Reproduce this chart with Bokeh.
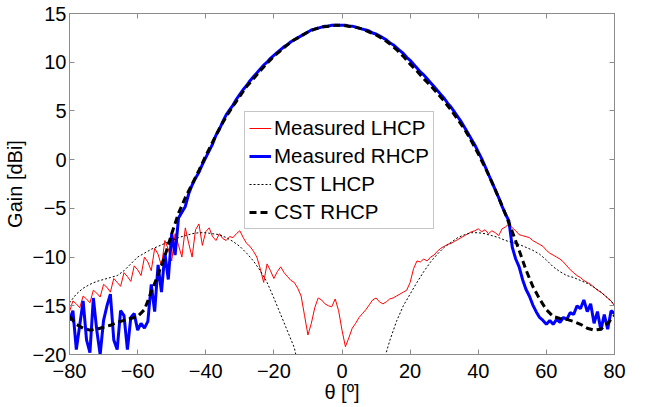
from bokeh.plotting import figure
from bokeh.models import Range1d, LinearAxis, FixedTicker, Legend, LegendItem
from bokeh.embed import file_html
from bokeh.resources import INLINE

# ---------------- data ----------------
theta_meas = list(range(-80, 81))
theta_cst = list(range(-80, 81, 2))

meas_lhcp = [
    -15.6, -14.5, -14.8, -15.2, -14.0, -14.3, -14.7, -13.4, -13.7, -14.1,
    -12.8, -13.1, -13.6, -12.2, -12.6, -13.0, -11.6, -12.0, -12.5, -10.9,
    -11.3, -11.9, -10.0, -10.5, -11.4, -9.1, -9.7, -10.9, -8.3, -9.2,
    -10.4, -7.6, -8.8, -10.0, -7.0, -8.6, -10.0, -7.2, -6.6, -8.8,
    -7.4, -7.0, -7.9, -8.3, -7.6, -8.1, -8.3, -7.9, -8.0, -7.6,
    -7.3, -8.0, -8.6, -8.9, -9.4, -10.0, -11.2, -12.6, -10.7, -11.4,
    -12.2, -11.5, -11.0, -11.6, -12.0, -12.4, -12.6, -13.2, -14.0, -16.0,
    -18.0, -16.8, -15.2, -14.2, -14.4, -14.8, -15.0, -15.1, -14.3, -15.5,
    -17.5, -19.2, -18.3, -17.3, -16.8, -16.2, -15.8, -15.4, -14.9, -14.4,
    -14.2, -14.6, -14.8, -14.6, -14.3, -14.2, -14.0, -13.8, -13.6, -13.4,
    -12.6, -11.2, -10.4, -10.5, -10.2, -10.4, -10.0, -9.8, -9.4, -9.1,
    -8.9, -8.7, -8.6, -8.4, -8.2, -8.0, -7.8, -7.6, -7.4, -7.3,
    -7.1, -7.4, -7.2, -7.6, -7.3, -7.5, -7.8, -7.1, -6.9, -6.6,
    -7.0, -7.3, -7.7, -7.8, -7.9, -8.0, -8.3, -8.5, -8.7, -8.9,
    -9.3, -9.6, -9.8, -10.0, -10.2, -10.5, -10.9, -11.3, -11.6, -11.9,
    -12.1, -12.4, -12.6, -12.8, -13.1, -13.4, -13.6, -13.9, -14.2, -14.5, -15.0,
]

meas_rhcp = [
    -16.5, -15.5, -19.5, -17.0, -14.5, -18.5, -19.8, -14.2, -17.5, -20.0,
    -16.5, -15.0, -13.8, -18.5, -19.5, -15.5, -16.0, -19.5, -16.2, -15.8,
    -17.5, -16.8, -17.3, -16.6, -12.8, -15.6, -10.8, -13.6, -9.6, -12.3,
    -7.6, -9.8, -6.0, -5.4, -4.8, -3.5, -2.6, -1.9, -1.3, -0.5,
    0.2, 0.9, 1.6, 2.5, 3.1, 3.9, 4.6, 5.1, 5.6, 6.2,
    6.7, 7.2, 7.6, 8.1, 8.5, 8.9, 9.3, 9.7, 10.0, 10.4,
    10.7, 11.0, 11.3, 11.6, 11.8, 12.1, 12.3, 12.5, 12.7, 12.9,
    13.1, 13.3, 13.4, 13.5, 13.6, 13.7, 13.7, 13.8, 13.8, 13.8,
    13.8, 13.8, 13.7, 13.7, 13.6, 13.5, 13.4, 13.3, 13.2, 13.0,
    12.9, 12.7, 12.5, 12.3, 12.0, 11.8, 11.5, 11.2, 10.9, 10.5,
    10.2, 9.8, 9.4, 9.0, 8.7, 8.3, 7.9, 7.5, 7.1, 6.7,
    6.3, 5.8, 5.4, 4.9, 4.4, 3.9, 3.3, 2.7, 2.1, 1.5,
    0.8, 0.1, -0.7, -1.5, -2.3, -3.1, -3.9, -4.8, -5.6, -6.3,
    -9.0, -10.2, -11.0, -12.3, -13.3, -14.0, -14.9, -15.6, -16.2, -16.5,
    -16.9, -16.5, -16.9, -16.4, -16.7, -16.2, -16.4, -15.7, -15.9, -15.0,
    -15.3, -14.4, -15.6, -14.8, -16.8, -15.6, -17.5, -15.9, -17.4, -15.5, -15.8,
]

cst_lhcp = [
    -14.7, -13.8, -13.2, -12.8, -12.5, -12.3, -12.1, -11.9, -11.4, -10.7,
    -10.0, -9.6, -9.2, -8.9, -8.6, -8.3, -8.0, -7.8, -7.6, -7.5,
    -7.5, -7.6, -7.7, -8.0, -8.4, -8.9, -9.6, -10.4, -11.4, -12.6,
    -14.2, -15.9, -17.6, -19.3, -22.5, -26.0, -30.0, -35.0, -39.0, -41.0,
    -42.0, -40.0, -36.0, -32.0, -27.5, -24.0, -21.0, -18.6, -16.6, -15.0,
    -13.8, -12.6, -11.5, -10.5, -9.7, -9.0, -8.5, -8.0, -7.7, -7.5,
    -7.5, -7.6, -7.8, -8.0, -8.3, -8.5, -8.7, -9.0, -9.3, -9.7,
    -10.3, -11.0, -11.5, -11.9, -12.1, -12.4, -12.7, -13.1, -13.6, -14.2, -14.9,
]

cst_rhcp = [
    -16.1, -16.9, -17.3, -17.5, -17.4, -17.2, -17.0, -16.7, -16.5, -16.3,
    -16.1, -15.4, -13.6, -11.8, -9.9, -7.6, -5.5, -3.9, -2.5, -1.1,
    0.4, 1.8, 3.2, 4.4, 5.5, 6.5, 7.5, 8.3, 9.1, 9.9,
    10.6, 11.2, 11.8, 12.3, 12.7, 13.1, 13.4, 13.6, 13.7, 13.8,
    13.8, 13.7, 13.6, 13.4, 13.1, 12.8, 12.4, 11.9, 11.3, 10.6,
    9.8, 9.1, 8.3, 7.6, 6.8, 6.0, 5.1, 4.1, 3.1, 1.9,
    0.6, -0.8, -2.3, -3.9, -5.6, -7.4, -9.3, -11.3, -13.0, -14.3,
    -15.4, -16.1, -16.3, -16.4, -16.6, -16.9, -17.3, -17.5, -17.4, -16.8, -16.0,
]

x_ticks = [-80, -60, -40, -20, 0, 20, 40, 60, 80]
y_ticks = [-20, -15, -10, -5, 0, 5, 10, 15]

labels = ["Measured LHCP", "Measured RHCP", "CST LHCP", "CST RHCP"]

# ---------------- figure ----------------
FONT = "Liberation Sans"
FS = "20px"
GRAY = "#8c8c8c"

p = figure(frame_width=545, frame_height=341, output_backend="svg", toolbar_location=None,
           x_range=Range1d(-80, 80), y_range=Range1d(-20, 15),
           min_border_left=60, min_border_right=15, min_border_top=13,
           min_border_bottom=44)
p.grid.visible = False
p.outline_line_color = GRAY
p.background_fill_color = "white"
p.border_fill_color = "white"

r1 = p.line(theta_meas, meas_lhcp, line_color="#ff0000", line_width=1)
r2 = p.line(theta_meas, meas_rhcp, line_color="#0000ff", line_width=3)
r3 = p.line(theta_cst, cst_lhcp, line_color="black", line_width=1, line_dash="2 2")
r4 = p.line(theta_cst, cst_rhcp, line_color="black", line_width=3, line_dash="7 4")

for ax, ticks in ((p.xaxis[0], x_ticks), (p.yaxis[0], y_ticks)):
    ax.ticker = FixedTicker(ticks=ticks)
    ax.major_label_text_font = FONT
    ax.major_label_text_font_size = FS
    ax.major_label_text_color = "black"
    ax.axis_label_text_font = FONT
    ax.axis_label_text_font_size = FS
    ax.axis_label_text_font_style = "normal"
    ax.axis_label_text_color = "black"
    ax.axis_line_color = GRAY
    ax.major_tick_line_color = GRAY
    ax.major_tick_in = 5
    ax.major_tick_out = 0
    ax.minor_tick_line_color = None

p.xaxis[0].axis_label = "θ [º]"
p.yaxis[0].axis_label = "Gain [dBi]"
p.xaxis[0].major_label_standoff = 9
p.xaxis[0].axis_label_standoff = 0
p.yaxis[0].major_label_standoff = 3
p.yaxis[0].axis_label_standoff = 4

for loc, ticks in (("above", x_ticks), ("right", y_ticks)):
    ax = LinearAxis(ticker=FixedTicker(ticks=ticks))
    ax.major_label_text_font_size = "1px"
    ax.major_label_text_color = None
    ax.major_label_standoff = 0
    ax.axis_line_color = GRAY
    ax.major_tick_line_color = GRAY
    ax.major_tick_in = 5
    ax.major_tick_out = 0
    ax.minor_tick_line_color = None
    p.add_layout(ax, loc)

legend = Legend(items=[LegendItem(label=l, renderers=[r]) for l, r in zip(labels, [r1, r2, r3, r4])],
                location=(175, 125))
legend.label_text_font = FONT
legend.label_text_font_size = "20.5px"
legend.label_text_color = "black"
legend.label_standoff = 3
legend.glyph_width = 22
legend.glyph_height = 22
legend.spacing = 4
legend.padding = 4
legend.margin = 0
legend.border_line_color = GRAY
legend.background_fill_alpha = 1
p.add_layout(legend, "center")

open("out.html", "w").write(file_html(p, INLINE))
